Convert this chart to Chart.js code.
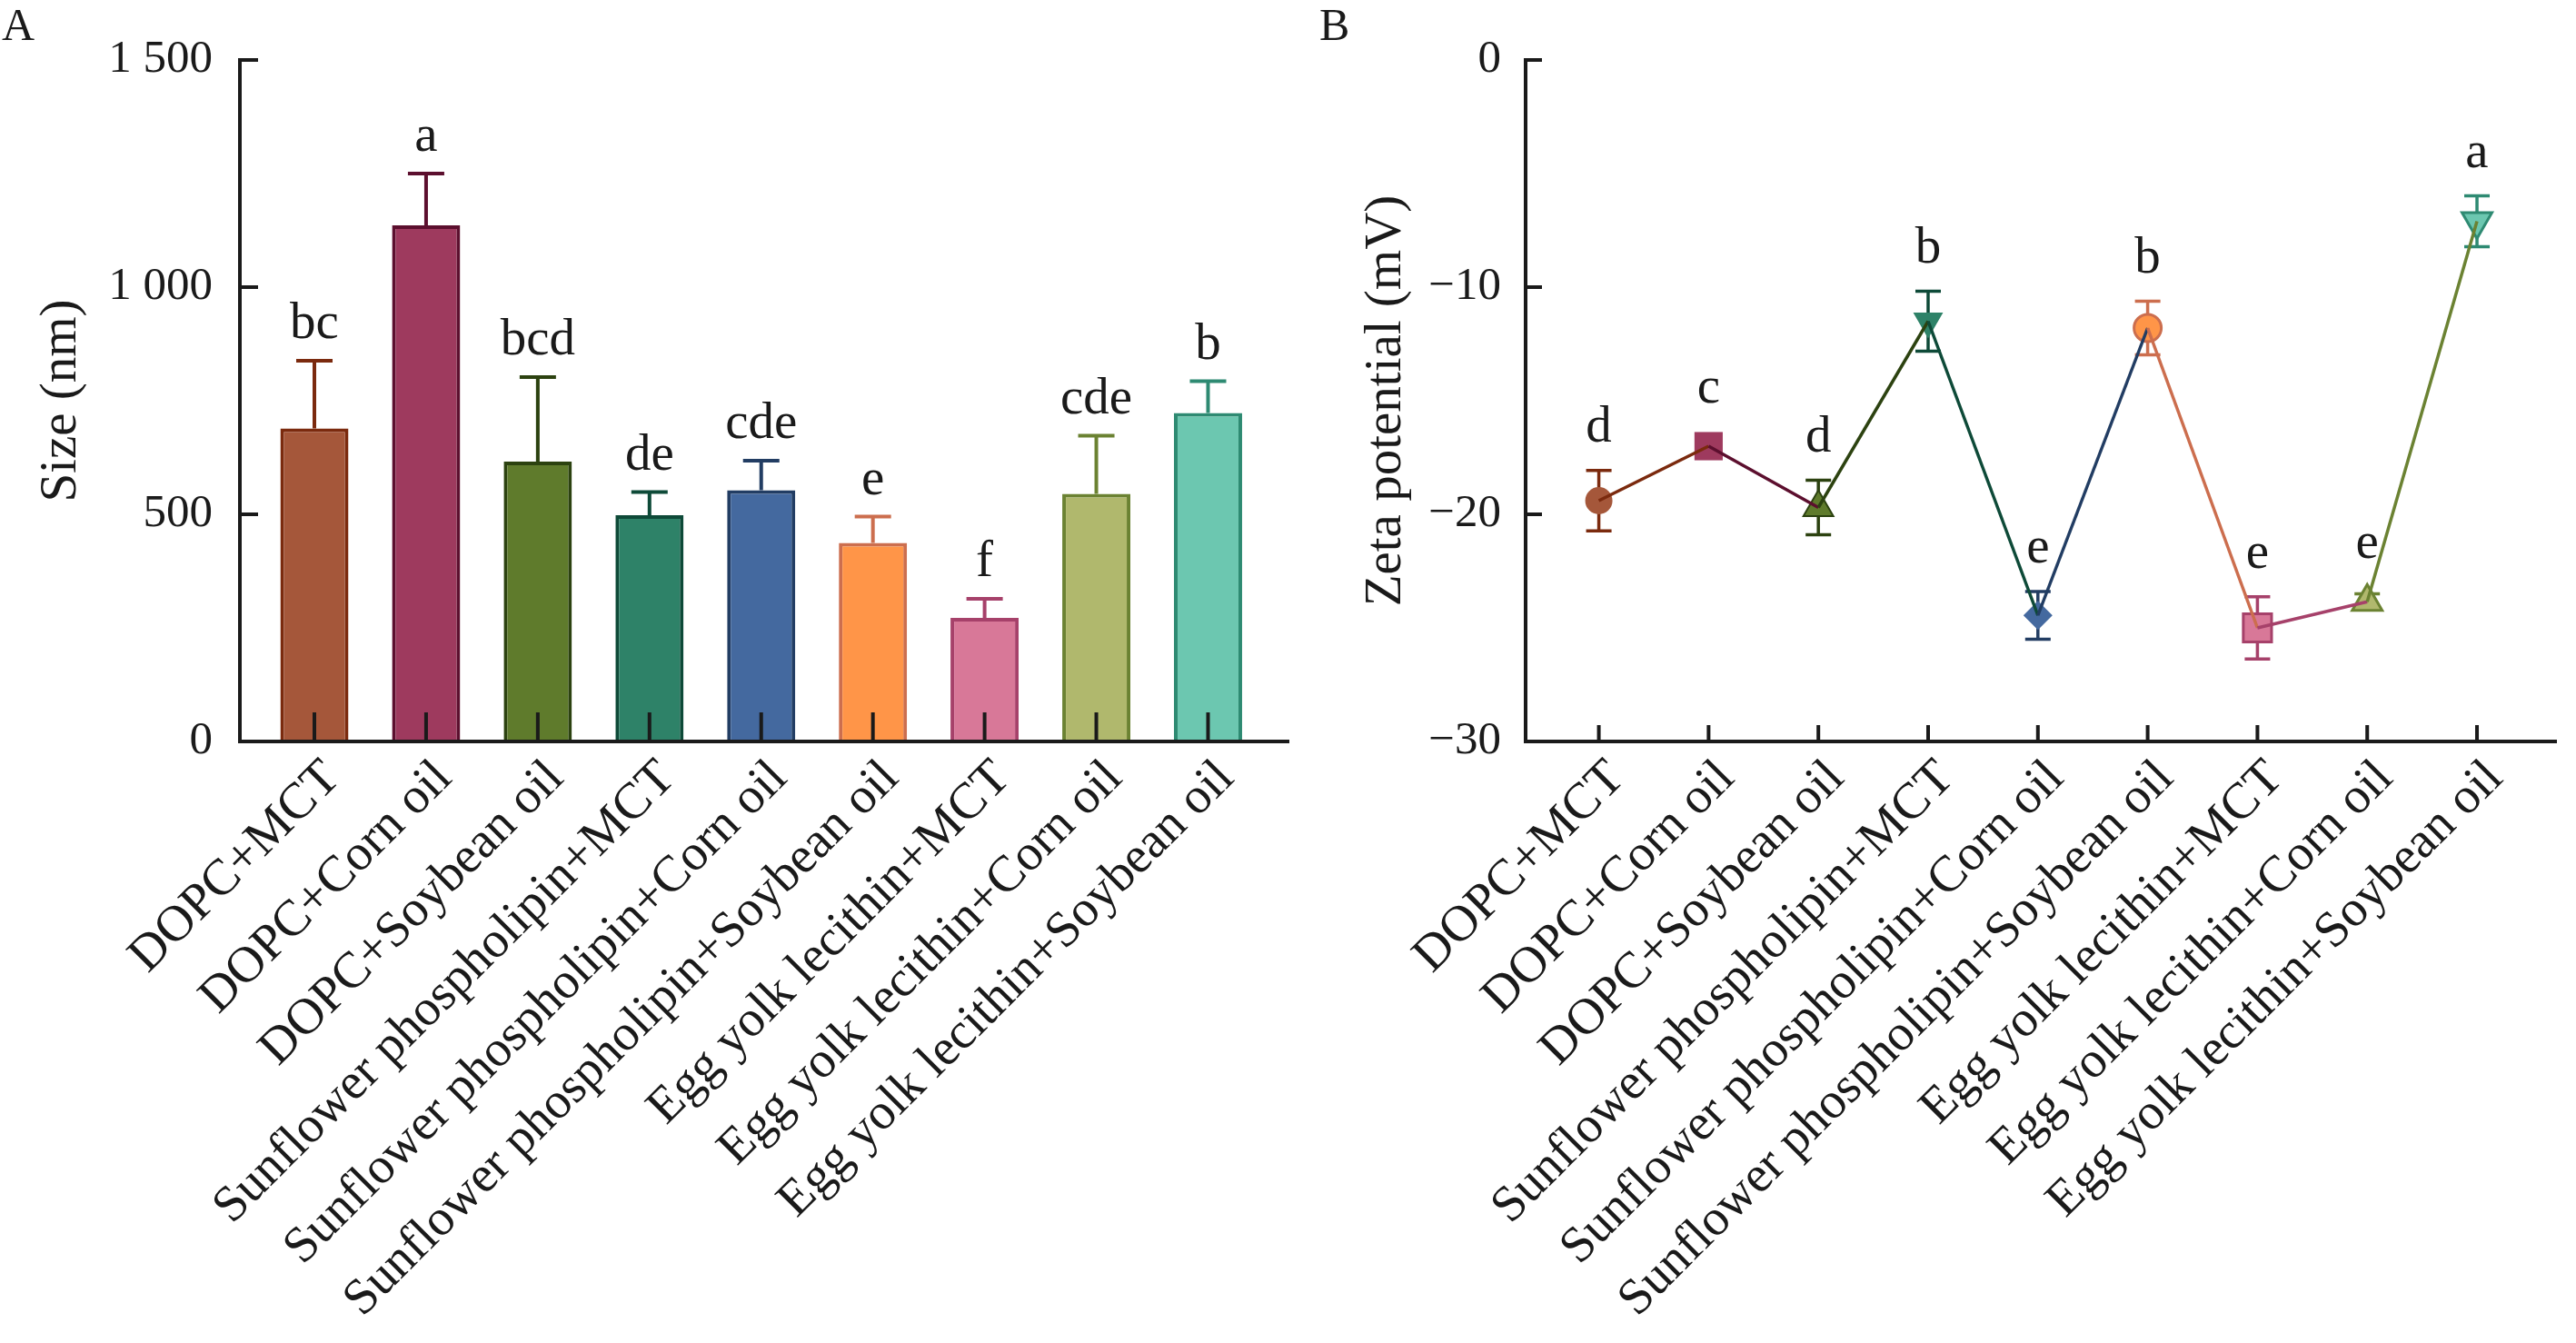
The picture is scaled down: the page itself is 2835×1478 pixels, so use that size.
<!DOCTYPE html>
<html>
<head>
<meta charset="utf-8">
<script src="https://cdn.jsdelivr.net/npm/chart.js@4.4.1/dist/chart.umd.min.js"></script>
<style>
html, body { margin: 0; padding: 0; background: #fff; }
#wrap { position: relative; width: 2835px; height: 1478px; }
#chartA { position: absolute; left: 0; top: 0; }
#chartB { position: absolute; left: 1420px; top: 0; }
</style>
</head>
<body>
<div id="wrap">
    <canvas id="chartA" width="1420" height="1478"></canvas>
    <canvas id="chartB" width="1415" height="1478"></canvas>
</div>
<script>
// groups (x axis of both panels)
const groups = [
    'DOPC+MCT', 'DOPC+Corn oil', 'DOPC+Soybean oil',
    'Sunflower phospholipin+MCT', 'Sunflower phospholipin+Corn oil', 'Sunflower phospholipin+Soybean oil',
    'Egg yolk lecithin+MCT', 'Egg yolk lecithin+Corn oil', 'Egg yolk lecithin+Soybean oil'
];

// panel A: particle size (nm)
const sizeMean = [689, 1136, 616, 498, 553, 437, 272, 545, 723];
const sizeSD = [149, 114, 186, 51, 65, 58, 42, 128, 70];
const sizeLetters = ['bc', 'a', 'bcd', 'de', 'cde', 'e', 'f', 'cde', 'b'];
const sizeTicks = [0, 500, 1000, 1500];

// panel B: zeta potential (mV)
const zetaMean = [-19.4, -17.0, -19.7, -11.5, -24.45, -11.8, -25.0, -23.85, -7.1];
const zetaSD = [1.33, 0.3, 1.2, 1.32, 1.05, 1.18, 1.37, 0.35, 1.12];
const zetaLetters = ['d', 'c', 'd', 'b', 'e', 'b', 'e', 'e', 'a'];
const zetaTicks = [-30, -20, -10, 0];

// colours per group
const fillCols = ['#A5573A', '#9E3A5E', '#5F7B2C', '#2E8268', '#44699F', '#FF9548', '#D87898', '#B0B86D', '#6CC7B0'];
const edgeCols = ['#7B2A0E', '#5C0F2E', '#2C4210', '#0E4A38', '#223D63', '#CC6E4E', '#A6416A', '#6B8232', '#2E8A72'];

// marker look in panel B
const markStyle = ['circle', 'rect', 'triangle', 'triangle', 'rectRot', 'circle', 'rect', 'triangle', 'triangle'];
const markRot = [0, 0, 0, 180, 0, 0, 0, 0, 180];
const markSize = [15, 22, 19, 19, 16, 15, 22, 19, 19];
const markEdge = [0, 0, 2, 0, 0, 3, 3, 3, 3];

const FONT = "'Liberation Serif', 'Times New Roman', serif";
const INK = '#1a1a1a';

Chart.defaults.font.family = FONT;
Chart.defaults.color = INK;

function drawErr(chart, cfg) {
    const ctx = chart.ctx, xs = chart.scales.x, ys = chart.scales.y;
    ctx.save();
    ctx.lineWidth = cfg.errWidth;
    cfg.means.forEach((m, i) => {
        const px = xs.getPixelForValue(i);
        const hi = ys.getPixelForValue(m + cfg.sds[i]);
        const lo = cfg.both ? ys.getPixelForValue(m - cfg.sds[i]) : ys.getPixelForValue(m);
        ctx.strokeStyle = edgeCols[i];
        ctx.beginPath();
        ctx.moveTo(px, lo); ctx.lineTo(px, hi);
        ctx.moveTo(px - cfg.cap / 2, hi); ctx.lineTo(px + cfg.cap / 2, hi);
        if (cfg.both) { ctx.moveTo(px - cfg.cap / 2, lo); ctx.lineTo(px + cfg.cap / 2, lo); }
        ctx.stroke();
    });
    ctx.restore();
}

function decor(cfg) {
    return {
        id: 'decor' + cfg.panel,
        beforeDatasetsDraw(chart) { drawErr(chart, cfg); },
        afterDatasetsDraw(chart) {
            const ctx = chart.ctx, xs = chart.scales.x, ys = chart.scales.y;
            ctx.save();
            // inward tick marks
            ctx.strokeStyle = INK;
            ctx.lineWidth = 4;
            ctx.beginPath();
            xs.ticks.forEach(t => {
                const px = xs.getPixelForValue(t.value);
                ctx.moveTo(px, ys.bottom); ctx.lineTo(px, ys.bottom - cfg.xTick);
            });
            ys.ticks.forEach(t => {
                const py = ys.getPixelForValue(t.value);
                ctx.moveTo(xs.left, py); ctx.lineTo(xs.left + cfg.yTick, py);
            });
            ctx.stroke();
            // significance letters
            ctx.fillStyle = INK;
            ctx.font = '57px ' + FONT;
            ctx.textAlign = 'center';
            ctx.textBaseline = 'alphabetic';
            cfg.letters.forEach((s, i) => {
                const px = xs.getPixelForValue(i);
                const top = Math.min(ys.getPixelForValue(cfg.means[i] + cfg.sds[i]),
                    ys.getPixelForValue(cfg.means[i]) - cfg.markTop);
                ctx.fillText(s, px, top - cfg.gap);
            });
            // panel letter
            ctx.font = '50px ' + FONT;
            ctx.textAlign = 'left';
            ctx.fillText(cfg.panel, cfg.panelX, 44);
            ctx.restore();
        }
    };
}

function xScale() {
    return {
        type: 'linear',
        offset: false,
        min: -0.667,
        max: 8.72,
        afterBuildTicks: s => { s.ticks = groups.map((g, i) => ({ value: i })); },
        afterFit: s => { s.height = 662; s.paddingLeft = 0; s.paddingRight = 0; },
        grid: { display: false, drawTicks: false, offset: false },
        border: { display: true, color: INK, width: 4, z: 1 },
        ticks: {
            autoSkip: false,
            minRotation: 45,
            maxRotation: 45,
            padding: 8,
            labelOffset: 20,
            font: { size: 56 },
            color: INK,
            callback: v => groups[v]
        }
    };
}

function yScale(ticks, width, pad, title, titlePad, fmt) {
    return {
        min: ticks[0],
        max: ticks[ticks.length - 1],
        afterBuildTicks: s => { s.ticks = ticks.map(v => ({ value: v })); },
        afterFit: s => { s.width = width; s.paddingTop = 0; s.paddingBottom = 0; },
        grid: { display: false, drawTicks: false },
        border: { display: true, color: INK, width: 4, z: 1 },
        ticks: { padding: pad, font: { size: 51 }, color: INK, callback: fmt },
        title: { display: true, text: title, font: { size: 57 }, color: INK, padding: { top: titlePad, bottom: 0 } }
    };
}

new Chart(document.getElementById('chartA'), {
    type: 'bar',
    data: {
        datasets: [{
            data: sizeMean.map((v, i) => ({ x: i, y: v })),
            backgroundColor: fillCols,
            borderColor: edgeCols,
            borderWidth: 4,
            borderSkipped: 'start',
            barPercentage: 0.61,
            categoryPercentage: 1
        }]
    },
    options: {
        responsive: false,
        animation: false,
        devicePixelRatio: 1,
        layout: { padding: { left: 0, top: 66, right: 2, bottom: 0 } },
        plugins: { legend: { display: false }, tooltip: { enabled: false } },
        scales: {
            x: xScale(),
            y: yScale(sizeTicks, 264, 30, 'Size (nm)', 34,
                v => v >= 1000 ? Math.floor(v / 1000) + ' ' + String(v % 1000).padStart(3, '0') : String(v))
        }
    },
    plugins: [decor({
        panel: 'A', panelX: 2, means: sizeMean, sds: sizeSD, letters: sizeLetters,
        both: false, cap: 40, errWidth: 4, xTick: 32, yTick: 20, gap: 25, markTop: 0
    })]
});

new Chart(document.getElementById('chartB'), {
    type: 'line',
    data: {
        datasets: [{
            data: zetaMean.map((v, i) => ({ x: i, y: v })),
            borderWidth: 3.5,
            pointRadius: 0,
            tension: 0,
            clip: false,
            order: 0,
            segment: { borderColor: c => edgeCols[c.p0DataIndex] }
        }, {
            data: zetaMean.map((v, i) => ({ x: i, y: v })),
            showLine: false,
            clip: false,
            order: 1,
            pointStyle: markStyle,
            pointRotation: markRot,
            pointRadius: markSize,
            pointBorderWidth: markEdge,
            pointBackgroundColor: fillCols,
            pointBorderColor: edgeCols
        }]
    },
    options: {
        responsive: false,
        animation: false,
        devicePixelRatio: 1,
        layout: { padding: { left: 0, top: 66, right: 0, bottom: 0 } },
        plugins: { legend: { display: false }, tooltip: { enabled: false } },
        scales: {
            x: xScale(),
            y: yScale(zetaTicks, 259, 27, 'Zeta potential (mV)', 72,
                v => v < 0 ? '\u2212' + Math.abs(v) : String(v))
        }
    },
    plugins: [decor({
        panel: 'B', panelX: 32, means: zetaMean, sds: zetaSD, letters: zetaLetters,
        both: true, cap: 28, errWidth: 3.5, xTick: 18, yTick: 18, gap: 32, markTop: 16
    })]
});
</script>
</body>
</html>
